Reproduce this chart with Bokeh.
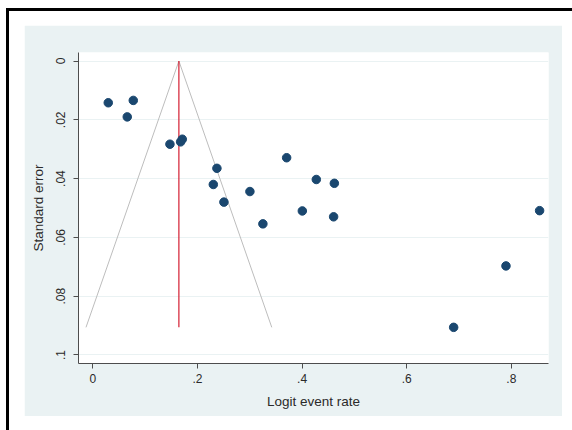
from bokeh.plotting import figure
from bokeh.models import Range1d, FixedTicker
from bokeh.layouts import column
from bokeh.embed import file_html
from bokeh.resources import INLINE

# Study estimates (logit event rate) and their standard errors
logit_rate = [0.0294, 0.0772, 0.0657, 0.1473, 0.1709, 0.1677, 0.2371, 0.2302,
              0.2505, 0.3002, 0.3250, 0.3704, 0.4004, 0.4271, 0.4616, 0.4602,
              0.8540, 0.7897, 0.6897]
std_err = [0.0142, 0.0134, 0.0190, 0.0283, 0.0266, 0.0275, 0.0365, 0.0420,
           0.0480, 0.0444, 0.0554, 0.0329, 0.0510, 0.0403, 0.0416, 0.0530,
           0.0509, 0.0697, 0.0906]
pooled = 0.1644

x_ticks = [0, 0.2, 0.4, 0.6, 0.8]
x_tick_labels = ["0", ".2", ".4", ".6", ".8"]
y_ticks = [0, 0.02, 0.04, 0.06, 0.08, 0.1]
y_tick_labels = ["0", ".02", ".04", ".06", ".08", ".1"]

BG = "#EAF2F3"
FONT = "Liberation Sans"

p = figure(width=538, height=391, output_backend="svg", toolbar_location=None,
           x_range=Range1d(-0.0275, 0.871), y_range=Range1d(0.1029, -0.0029),
           background_fill_color="white", border_fill_color=BG,
           min_border_left=54, min_border_top=27, min_border_right=14,
           min_border_bottom=53)
p.outline_line_color = None

# funnel limits (pseudo 95% CI)
se_max = max(std_err)
p.line([pooled - 1.96 * se_max, pooled, pooled + 1.96 * se_max], [se_max, 0, se_max],
       line_color="#BDBDBD", line_width=1)
p.line([pooled, pooled], [0, se_max], line_color="#D41E32", line_width=1.2)

p.scatter(logit_rate, std_err, size=8.5, fill_color="#1A476F", line_color="#1A476F")

for ax in (p.xaxis, p.yaxis):
    ax.axis_line_color = "#4D4D4D"
    ax.major_tick_line_color = "#4D4D4D"
    ax.major_tick_out = 5
    ax.major_tick_in = 0
    ax.minor_tick_line_color = None
    ax.major_label_text_font = FONT
    ax.major_label_text_font_size = "12px"
    ax.major_label_text_color = "#2A2A2A"
    ax.axis_label_text_font = FONT
    ax.axis_label_text_font_size = "13.5px"
    ax.axis_label_text_font_style = "normal"
    ax.axis_label_text_color = "#2A2A2A"

p.xaxis.ticker = FixedTicker(ticks=x_ticks)
p.xaxis.major_label_overrides = dict(zip(x_ticks, x_tick_labels))
p.yaxis.ticker = FixedTicker(ticks=y_ticks)
p.yaxis.major_label_overrides = dict(zip(y_ticks, y_tick_labels))
p.yaxis.major_label_orientation = "vertical"
p.yaxis.major_label_standoff = 8
p.yaxis.axis_label_standoff = 8
p.xaxis.axis_label_standoff = 8
p.xaxis.axis_label = "Logit event rate"
p.yaxis.axis_label = "Standard error"

p.xgrid.grid_line_color = None
p.ygrid.grid_line_color = BG
p.ygrid.grid_line_width = 1

p.margin = (14, 0, 0, 15)
lay = column(p, width=566, height=422, margin=(8, 0, 0, 6),
             styles={"border-top": "3px solid black", "border-left": "3px solid black",
                     "box-sizing": "border-box"})

open("out.html", "w").write(file_html(lay, INLINE))
